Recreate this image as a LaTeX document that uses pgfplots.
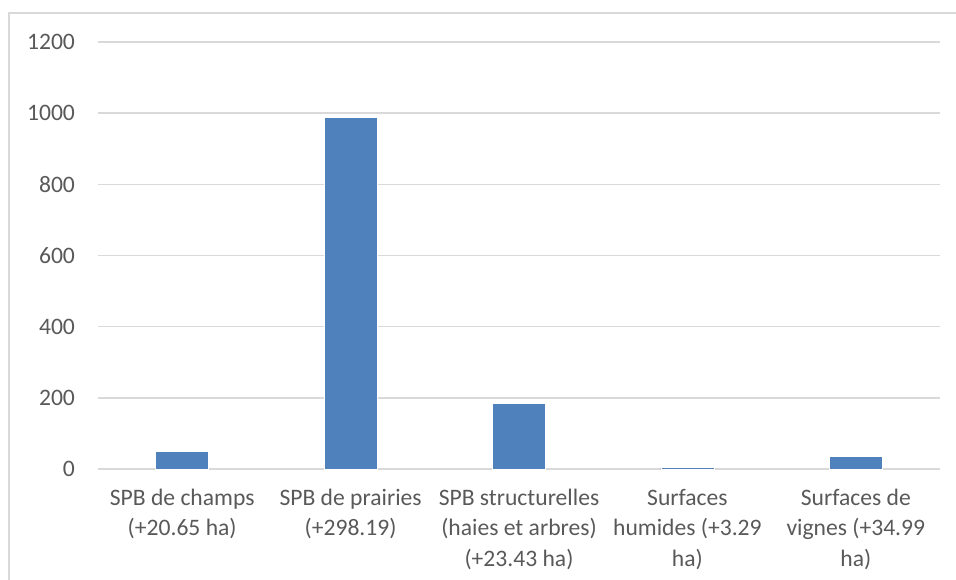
\documentclass[border=0pt]{standalone}
\usepackage{pgfplots}
\pgfplotsset{compat=1.18}
\usepackage{fontspec}
\setmainfont{Carlito}
\definecolor{barblue}{HTML}{4F81BD}
\definecolor{gridgray}{HTML}{D9D9D9}
\definecolor{labgray}{HTML}{595959}
\begin{document}
\begin{tikzpicture}
\useasboundingbox (-49pt,-55pt) rectangle (429pt,234.5pt);
\draw[gridgray, line width=0.6pt] (-44.5pt,-60pt) -- (-44.5pt,228pt) -- (435pt,228pt);
\begin{axis}[
  at={(0pt,0pt)}, anchor=south west,
  scale only axis,
  width=421pt, height=213.5pt,
  xmin=-0.5, xmax=4.5,
  ymin=0, ymax=1200,
  ytick={0,200,...,1200},
  xtick={0,1,2,3,4},
  xticklabels={{SPB de champs\\(+20.65 ha)},{SPB de prairies\\(+298.19)},{SPB structurelles\\(haies et arbres)\\(+23.43 ha)},{Surfaces\\humides (+3.29\\ha)},{Surfaces de\\vignes (+34.99\\ha)}},
  xticklabel style={align=center, font=\fontsize{11.8}{15.2}\selectfont, text=labgray, anchor=north, yshift=-6.5pt},
  yticklabel style={font=\fontsize{11.8}{15.2}\selectfont, text=labgray, xshift=-8pt},
  /pgf/number format/assume math mode=true,
  /pgf/number format/1000 sep={},
  ymajorgrids,
  grid style={gridgray, line width=0.7pt},
  axis line style={draw=none},
  major tick length=0pt,
  ybar,
  bar width=26.5pt,
]
\addplot[fill=barblue, draw=white, line width=0.3pt] coordinates {(0,50) (1,989) (2,184) (3,5) (4,36)};
\end{axis}
\end{tikzpicture}
\end{document}
